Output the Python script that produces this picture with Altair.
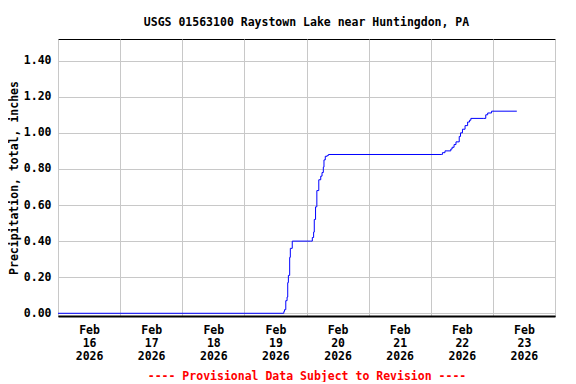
import altair as alt
import pandas as pd

times = [
    "2026-02-16 00:00", "2026-02-19 15:00", "2026-02-19 15:15", "2026-02-19 15:30",
    "2026-02-19 16:00", "2026-02-19 16:30", "2026-02-19 16:45", "2026-02-19 17:00",
    "2026-02-19 17:30", "2026-02-19 17:45", "2026-02-19 18:30", "2026-02-20 01:30",
    "2026-02-20 02:15", "2026-02-20 02:45", "2026-02-20 03:00", "2026-02-20 03:30",
    "2026-02-20 04:00", "2026-02-20 04:45", "2026-02-20 05:30", "2026-02-20 06:00",
    "2026-02-20 06:30", "2026-02-20 06:45", "2026-02-20 07:15", "2026-02-20 08:00",
    "2026-02-20 08:30", "2026-02-22 04:15", "2026-02-22 04:30", "2026-02-22 05:30",
    "2026-02-22 07:45", "2026-02-22 08:15", "2026-02-22 09:00", "2026-02-22 09:45",
    "2026-02-22 11:00", "2026-02-22 11:30", "2026-02-22 12:15", "2026-02-22 13:15",
    "2026-02-22 14:15", "2026-02-22 15:00", "2026-02-22 15:30", "2026-02-22 20:30",
    "2026-02-22 21:15", "2026-02-22 22:00", "2026-02-22 23:30", "2026-02-23 09:15",
]
precip = [
    0.00, 0.00, 0.01, 0.02,
    0.07, 0.09, 0.17, 0.21,
    0.31, 0.36, 0.40, 0.40,
    0.42, 0.45, 0.52, 0.59,
    0.68, 0.74, 0.76, 0.78,
    0.81, 0.85, 0.87, 0.875,
    0.88, 0.88, 0.89, 0.90,
    0.91, 0.92, 0.935, 0.95,
    0.98, 1.00, 1.02, 1.04,
    1.06, 1.07, 1.08, 1.08,
    1.10, 1.11, 1.12, 1.12,
]
y_ticks = [0.0, 0.2, 0.4, 0.6, 0.8, 1.0, 1.2, 1.4]
grid_days = [16, 17, 18, 19, 20, 21, 22, 23, 24]
label_days = [16, 17, 18, 19, 20, 21, 22, 23]

title_text = "USGS 01563100 Raystown Lake near Huntingdon, PA"
y_title = "Precipitation, total, inches"
footer = "---- Provisional Data Subject to Revision ----"

df = pd.DataFrame({"t": [s.replace(" ", "T") + ":00Z" for s in times], "p": precip})

FONT = "DejaVu Sans Mono"
FS = 11.5

xscale = alt.Scale(
    type="utc",
    domain=[alt.DateTime(year=2026, month=2, date=16, utc=True),
            alt.DateTime(year=2026, month=2, date=24, utc=True)],
)
yscale = alt.Scale(domain=[-0.015, 1.52], nice=False, zero=False)

y_axis = alt.Axis(
    values=y_ticks, format=".2f", grid=True, ticks=False, domain=False,
    labelPadding=7, title=y_title, titlePadding=4, orient="left",
)

grid_layer = alt.Chart(df).mark_line(opacity=0).encode(
    x=alt.X(
        "t:T", scale=xscale,
        axis=alt.Axis(
            values=[alt.DateTime(year=2026, month=2, date=d, utc=True) for d in grid_days],
            labels=False, ticks=False, grid=True, title=None, orient="bottom",
            domain=True, domainColor="black", domainWidth=2,
        ),
    ),
    y=alt.Y("p:Q", scale=yscale, axis=y_axis),
)

line = alt.Chart(df).mark_line(color="#0000ff", strokeWidth=1, interpolate="step-after").encode(
    x=alt.X(
        "t:T", scale=xscale,
        axis=alt.Axis(
            values=[alt.DateTime(year=2026, month=2, date=d, hours=12, utc=True) for d in label_days],
            labelExpr="[utcFormat(datum.value, '%b'), utcFormat(datum.value, '%d'), utcFormat(datum.value, '%Y')]",
            grid=False, ticks=False, domain=False, orient="bottom",
            labelPadding=8, labelLineHeight=13, labelBaseline="top",
            title=footer, titleColor="#ff0000", titlePadding=9,
        ),
    ),
    y=alt.Y("p:Q", scale=yscale, axis=y_axis),
)

chart = (
    alt.layer(grid_layer, line)
    .resolve_axis(x="independent")
    .properties(
        width=497,
        height=277,
        autosize=alt.AutoSizeParams(type="none"),
        padding={"left": 50, "top": 31, "right": 13, "bottom": 66},
        title=alt.TitleParams(
            text=title_text, font=FONT, fontSize=FS, fontWeight="bold",
            color="black", anchor="middle", offset=11,
        ),
        background="white",
    )
    .configure_axis(
        labelFont=FONT, labelFontSize=FS, labelFontWeight="bold", labelColor="black",
        titleFont=FONT, titleFontSize=FS, titleFontWeight="bold", titleColor="black",
        gridColor="#c8c8c8", gridWidth=1, gridOpacity=1,
    )
    .configure_view(stroke="black", strokeWidth=1)
)

chart.save("out.html", embed_options={"renderer": "svg", "actions": False})
